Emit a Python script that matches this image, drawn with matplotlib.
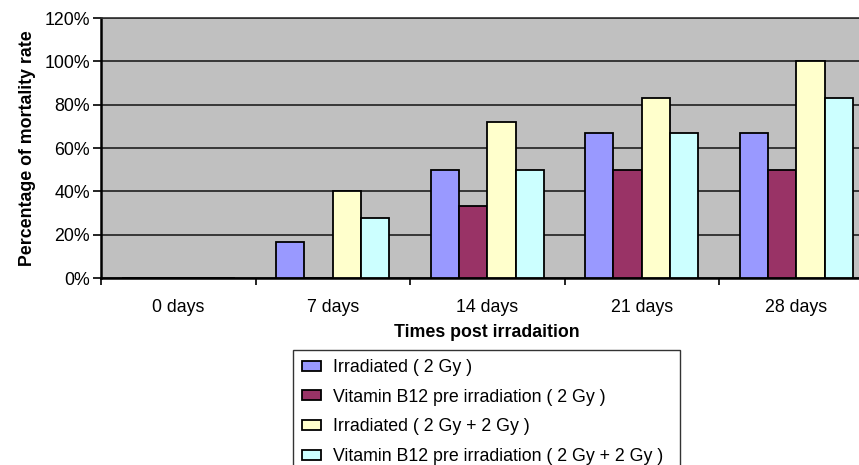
import numpy as np
import matplotlib
matplotlib.use('Agg')
import matplotlib.pyplot as plt
from matplotlib.ticker import FixedLocator

plt.rcParams['font.family'] = ['Liberation Sans', 'DejaVu Sans']

days = ['0 days', '7 days', '14 days', '21 days', '28 days']
irr_2 = [0, 16.7, 50, 66.7, 66.7]
b12_2 = [0, 0, 33.3, 50, 50]
irr_22 = [0, 40, 72.2, 83.3, 100]
b12_22 = [0, 27.8, 50, 66.7, 83.3]
yticks = [0, 20, 40, 60, 80, 100, 120]

series = [
    ('Irradiated ( 2 Gy )', irr_2, '#9999FF'),
    ('Vitamin B12 pre irradiation ( 2 Gy )', b12_2, '#993366'),
    ('Irradiated ( 2 Gy + 2 Gy )', irr_22, '#FFFFCC'),
    ('Vitamin B12 pre irradiation ( 2 Gy + 2 Gy )', b12_22, '#CCFFFF'),
]

fs = 12.8

fig = plt.figure(figsize=(8.59, 4.65), dpi=100)
ax = fig.add_axes([101/859, 1-278/465, 772.5/859, 260/465])
ax.set_facecolor('#C0C0C0')

x = np.arange(len(days))
w = 0.183
for i, (name, vals, col) in enumerate(series):
    ax.bar(x + (i - 1.5) * w, vals, w, color=col, edgecolor='black',
           linewidth=1.3, label=name, zorder=3)

ax.set_xlim(-0.5, len(days) - 0.5)
ax.set_ylim(0, 120)
ax.set_yticks(yticks)
ax.set_yticklabels([f'{v}%' for v in yticks], fontsize=fs)
ax.yaxis.grid(True, color='#202020', linewidth=1.2, zorder=0)
ax.set_axisbelow(True)

ax.set_xticks(x)
ax.set_xticklabels(days, fontsize=fs)
ax.tick_params(axis='x', which='major', length=0, pad=15)
ax.xaxis.set_minor_locator(FixedLocator(np.arange(-0.5, len(days), 1)))
ax.tick_params(axis='x', which='minor', length=5, width=1.2)
ax.tick_params(axis='y', length=6, width=1.2, pad=2)

for s in ['left', 'bottom']:
    ax.spines[s].set_linewidth(1.8)
ax.spines['top'].set_color('#303030')
ax.spines['top'].set_linewidth(1.2)

ax.set_xlabel('Times post irradaition', fontsize=fs, fontweight='bold', labelpad=6)
ax.set_ylabel('Percentage of mortality rate', fontsize=fs, fontweight='bold', labelpad=6)

leg = fig.legend(loc='upper left', bbox_to_anchor=(293/859, 0.0, 387/859, 1-350/465),
                 mode='expand', fontsize=fs, frameon=True, fancybox=False,
                 edgecolor='black', handlelength=1.1, handleheight=0.5,
                 labelspacing=0.72, borderpad=0.5, handletextpad=0.65,
                 borderaxespad=0)
leg.get_frame().set_linewidth(1.0)

fig.savefig('out.png', dpi=100)
